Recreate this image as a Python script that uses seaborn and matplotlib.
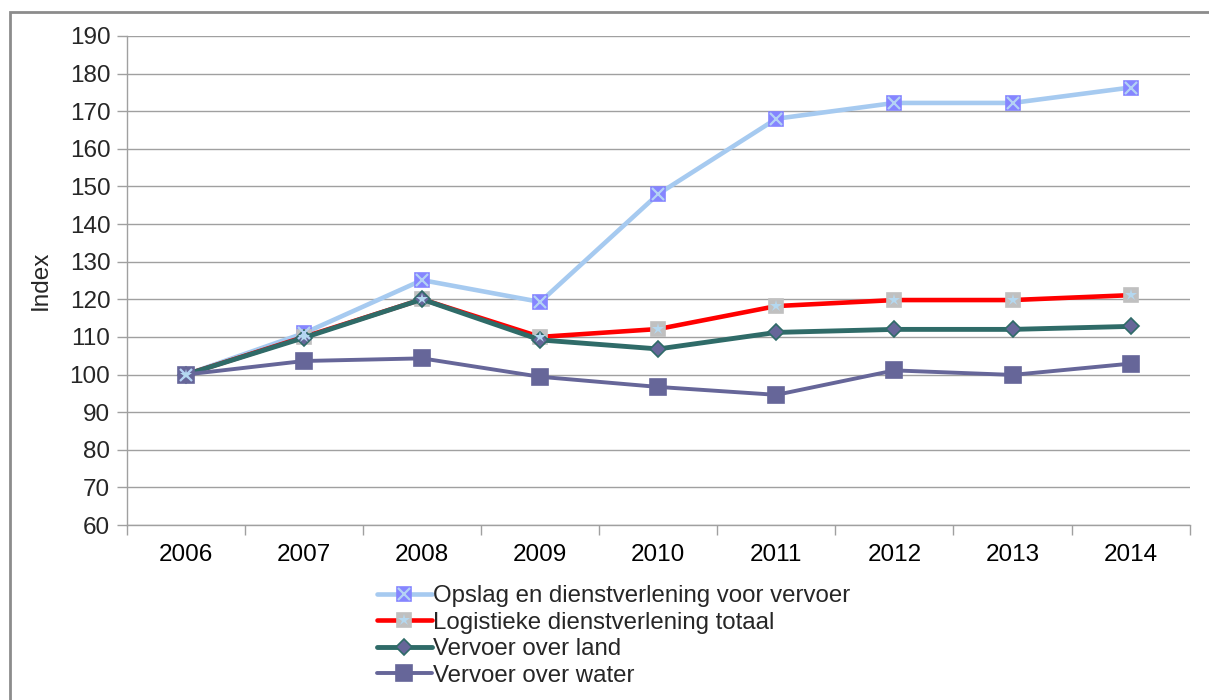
import numpy as np
import pandas as pd
import matplotlib
matplotlib.use('Agg')
import matplotlib.pyplot as plt
import seaborn as sns
from matplotlib.lines import Line2D
from matplotlib.patches import Rectangle

# data
jaren = ['2006', '2007', '2008', '2009', '2010', '2011', '2012', '2013', '2014']
opslag = [100, 111, 125.1, 119.3, 148, 168, 172.2, 172.2, 176.3]
logistiek = [100, 110, 120, 110, 112.1, 118.2, 119.8, 119.8, 121.1]
land = [100, 109.8, 120, 109.2, 106.8, 111.2, 112, 112, 112.8]
water = [100, 103.6, 104.3, 99.4, 96.7, 94.6, 101.1, 99.9, 102.9]
namen = ['Opslag en dienstverlening voor vervoer',
         'Logistieke dienstverlening totaal',
         'Vervoer over land',
         'Vervoer over water']

sns.set_theme(style='white')
plt.rcParams['font.family'] = ['Liberation Sans', 'DejaVu Sans']

df = pd.DataFrame({'pos': np.arange(len(jaren)), 'jaar': jaren,
                   'opslag': opslag, 'logistiek': logistiek,
                   'land': land, 'water': water})

fig = plt.figure(figsize=(12.09, 7.0), dpi=100)
ax = fig.add_axes([0.105, 0.25, 0.879, 0.6986])

# outer frame
fig.patches.append(Rectangle((0.0083, -0.02), 1.05, 0.9829 + 0.02, transform=fig.transFigure,
                             fill=False, edgecolor='#8c8c8c', linewidth=2))

stijl = [
    dict(kol='opslag', color='#A6CAF0', lw=3.3, marker='s', ms=10, mfc='#8585FF', mec='#8585FF',
         over=dict(marker='x', ms=9, mew=1.6, color='#B4D2F5')),
    dict(kol='logistiek', color='#FF0000', lw=3.3, marker='s', ms=10, mfc='#C0C0C0', mec='#C0C0C0',
         over=dict(marker='*', ms=9, mew=0, color='#B4D8F0')),
    dict(kol='land', color='#2F6B68', lw=3.5, marker='D', ms=8.5, mfc='#666699', mec='#2F6B68',
         over=None),
    dict(kol='water', color='#666699', lw=2.8, marker='s', ms=11, mfc='#666699', mec='#666699',
         over=None),
]

handles = []
for naam, s in zip(namen, stijl):
    sns.lineplot(data=df, x='pos', y=s['kol'], ax=ax, color=s['color'], linewidth=s['lw'],
                 marker=s['marker'], markersize=s['ms'], markerfacecolor=s['mfc'],
                 markeredgecolor=s['mec'], markeredgewidth=1.2, zorder=3)
    h = Line2D([], [], color=s['color'], linewidth=s['lw'], marker=s['marker'],
               markersize=s['ms'], markerfacecolor=s['mfc'], markeredgecolor=s['mec'],
               markeredgewidth=1.2)
    if s['over'] is not None:
        o = s['over']
        ax.plot(df['pos'], df[s['kol']], linestyle='none', marker=o['marker'],
                markersize=o['ms'], markeredgewidth=o['mew'], color=o['color'], zorder=4)
        h2 = Line2D([], [], linestyle='none', marker=o['marker'], markersize=o['ms'],
                    markeredgewidth=o['mew'], color=o['color'])
        handles.append((h, h2))
    else:
        handles.append(h)

ax.set_xlim(-0.5, len(jaren) - 0.5)
ax.set_ylim(60, 190)
ax.set_yticks(np.arange(60, 191, 10))
ax.set_xticks(np.arange(len(jaren)))
ax.set_xticklabels(jaren)
ax.set_xticks(np.arange(-0.5, len(jaren)), minor=True)
ax.tick_params(axis='x', which='major', length=0, pad=14, labelsize=17.5, colors='black')
ax.tick_params(axis='x', which='minor', length=7, width=1, color='#a0a0a0', bottom=True)
ax.tick_params(axis='y', length=7, width=1, color='#a0a0a0', labelsize=17.5, pad=5, left=True)
ax.yaxis.grid(True, color='#a0a0a0', linewidth=1)
ax.xaxis.grid(False)
for k in ['top', 'right']:
    ax.spines[k].set_visible(False)
for k in ['left', 'bottom']:
    ax.spines[k].set_color('#a0a0a0')
    ax.spines[k].set_linewidth(1)
ax.set_xlabel('')
ax.set_ylabel('Index', fontsize=17.5, labelpad=13)

ax.legend(handles, namen, loc='upper left', bbox_to_anchor=(0.3115, 0.164),
          bbox_transform=fig.transFigure, frameon=False, fontsize=17.3,
          handlelength=2.3, handletextpad=0.05, labelspacing=0.19, borderaxespad=0,
          borderpad=0)

fig.savefig('out.png', dpi=100)
